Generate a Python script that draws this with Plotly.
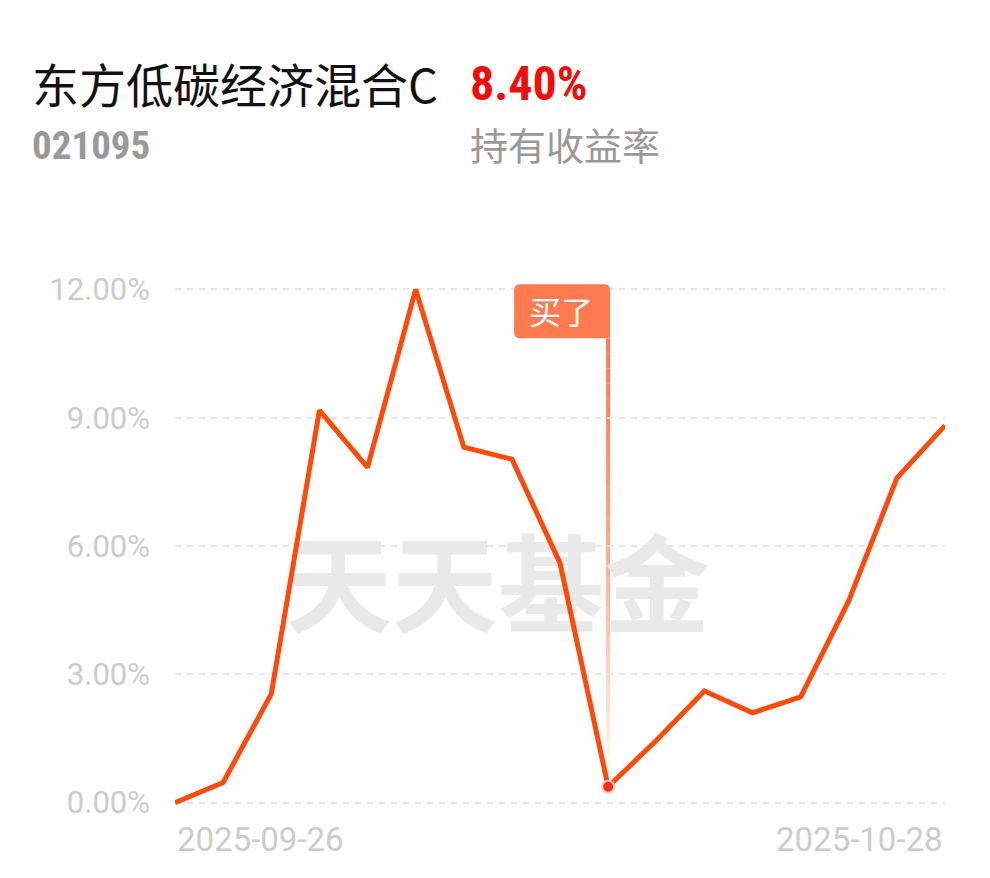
import plotly.graph_objects as go

# ---------------- data ----------------
dates = ["2025-09-26", "2025-09-29", "2025-09-30", "2025-10-09", "2025-10-10",
         "2025-10-13", "2025-10-14", "2025-10-15", "2025-10-16", "2025-10-17",
         "2025-10-20", "2025-10-21", "2025-10-22", "2025-10-23", "2025-10-24",
         "2025-10-27", "2025-10-28"]
returns = [0.00, 0.47, 2.54, 9.17, 7.84, 12.00, 8.31, 8.03, 5.60, 0.37,
           1.45, 2.61, 2.10, 2.47, 4.72, 7.59, 8.82]
y_ticks = [0, 3, 6, 9, 12]
y_tick_labels = ["0.00%", "3.00%", "6.00%", "9.00%", "12.00%"]
buy_date = "2025-10-17"
buy_label = "买了"
fund_name = "东方低碳经济混合C"
fund_code = "021095"
hold_return = "8.40%"
hold_return_label = "持有收益率"
watermark = "天天基金"

# ---------------- layout helpers (window pixel targets) ----------------
OFF = 8                      # default body margin of the html page
W, H = 990 - OFF, 878 - OFF  # figure size
X_LEFT, X_RIGHT = 175, 945   # window px of first / last date
Y_ZERO, Y_TOP = 803, 289     # window px of 0% and 12%
y_lo, y_hi = 0.0, 12.0
ext = 0.15                   # small range padding so edge gridlines show
px_per_unit = (Y_ZERO - Y_TOP) / (y_hi - y_lo)
plot_top = Y_TOP - ext * px_per_unit
plot_bot = Y_ZERO + ext * px_per_unit
L = X_LEFT - OFF
R = W - (X_RIGHT - OFF)
T = plot_top - OFF
B = H - (plot_bot - OFF)
plot_w = X_RIGHT - X_LEFT
plot_h = plot_bot - plot_top


def px_x(px):
    return (px - X_LEFT) / plot_w


def px_y(py):
    return (plot_bot - py) / plot_h


def val_from_py(py):
    return y_lo + (Y_ZERO - py) / px_per_unit


xs = list(range(len(dates)))
buy_i = dates.index(buy_date)
buy_val = returns[buy_i]

fig = go.Figure()

# watermark (drawn first, behind line)
fig.add_trace(go.Scatter(
    x=[(len(dates) - 1) * px_x(498)], y=[val_from_py(598)],
    mode="text", text=["<b>" + watermark + "</b>"],
    textfont=dict(family="Noto Sans CJK SC", size=106, color="#e9e9e9"),
    hoverinfo="skip", showlegend=False,
))

# fading vertical buy line
top_val = val_from_py(338)
n_seg = 30
for k in range(n_seg):
    y0 = top_val - (top_val - buy_val) * k / n_seg
    y1 = top_val - (top_val - buy_val) * (k + 1) / n_seg
    t = (k + 0.5) / n_seg
    op = max(0.03, 1 - t ** 1.4)
    fig.add_shape(type="line", x0=buy_i, x1=buy_i, y0=y0, y1=y1,
                  line=dict(color="rgba(255,123,79,%.3f)" % op, width=4),
                  layer="below")

# rounded label box (pixel-sized, anchored at the buy point column)
bx0, bx1, by0, by1, rr = -94, 2, 0, 54, 6
box_path = (f"M {bx0 + rr},{by1} L {bx1 - rr},{by1} Q {bx1},{by1} {bx1},{by1 - rr} "
            f"L {bx1},{by0} L {bx0 + rr},{by0} Q {bx0},{by0} {bx0},{by0 + rr} "
            f"L {bx0},{by1 - rr} Q {bx0},{by1} {bx0 + rr},{by1} Z")
fig.add_shape(type="path", xsizemode="pixel", ysizemode="pixel",
              xanchor=buy_i, yanchor=top_val, path=box_path,
              fillcolor="#ff7b4f", line=dict(width=0), layer="above")

# main line
fig.add_trace(go.Scatter(
    x=xs, y=returns, mode="lines",
    line=dict(color="#ff4a0a", width=5),
    hoverinfo="skip", showlegend=False,
))

# buy marker
fig.add_trace(go.Scatter(
    x=[buy_i], y=[buy_val], mode="markers",
    marker=dict(color="#ff2b1c", size=12, line=dict(color="rgba(255,205,195,1)", width=2)),
    hoverinfo="skip", showlegend=False, cliponaxis=False,
))

annotations = [
    dict(text=fund_name, xref="paper", yref="paper", x=px_x(30), y=px_y(82),
         xanchor="left", yanchor="middle", showarrow=False,
         font=dict(family="Noto Sans CJK SC", size=47, color="#111111")),
    dict(text="<b>" + hold_return + "</b>", xref="paper", yref="paper", x=px_x(468), y=px_y(83),
         xanchor="left", yanchor="middle", showarrow=False,
         font=dict(family="Liberation Sans Narrow, Roboto Condensed, Roboto", size=48, color="#f20c0c")),
    dict(text="<b>" + fund_code + "</b>", xref="paper", yref="paper", x=px_x(30), y=px_y(145),
         xanchor="left", yanchor="middle", showarrow=False,
         font=dict(family="Liberation Sans Narrow, Roboto Condensed, Roboto", size=39, color="#999999")),
    dict(text=hold_return_label, xref="paper", yref="paper", x=px_x(468), y=px_y(143),
         xanchor="left", yanchor="middle", showarrow=False,
         font=dict(family="Noto Sans CJK SC", size=38, color="#999999")),
    dict(text=dates[0], xref="x", yref="paper", x=0, y=px_y(840),
         xanchor="left", yanchor="middle", showarrow=False,
         font=dict(family="Roboto", size=33, color="#cccccc")),
    dict(text=dates[-1], xref="x", yref="paper", x=len(dates) - 1, y=px_y(840),
         xanchor="right", yanchor="middle", showarrow=False,
         font=dict(family="Roboto", size=33, color="#cccccc")),
    dict(text=buy_label, xref="x", yref="y", x=buy_i, y=top_val,
         xanchor="right", yanchor="bottom", xshift=2, showarrow=False,
         width=96, height=54, borderpad=0,
         font=dict(family="Noto Sans CJK SC", size=32, color="#ffffff")),
]

fig.update_layout(
    width=W, height=H,
    margin=dict(l=L, r=R, t=T, b=B, pad=0),
    paper_bgcolor="#ffffff", plot_bgcolor="#ffffff",
    showlegend=False,
    annotations=annotations,
    xaxis=dict(range=[0, len(dates) - 1], showgrid=False, zeroline=False,
               showline=False, showticklabels=False, ticks="", fixedrange=True),
    yaxis=dict(range=[y_lo - ext, y_hi + ext], tickvals=y_ticks, ticktext=y_tick_labels,
               showgrid=True, gridcolor="#e6e6e6", gridwidth=2, griddash="6px,6px",
               zeroline=False, showline=False, ticks="",
               ticklabelstandoff=24,
               tickfont=dict(family="Roboto", size=31, color="#cccccc")),
)

fig.write_html("out.html")
